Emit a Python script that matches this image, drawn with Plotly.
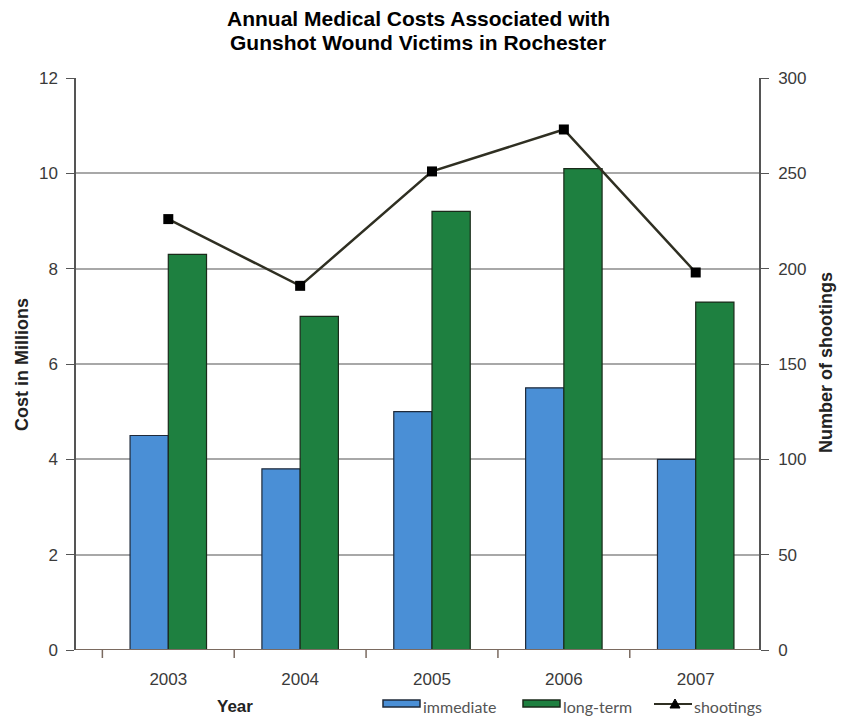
import plotly.graph_objects as go

years = ["2003", "2004", "2005", "2006", "2007"]
immediate = [4.5, 3.8, 5.0, 5.5, 4.0]
long_term = [8.3, 7.0, 9.2, 10.1, 7.3]
shootings = [226, 191, 251, 273, 198]

left_ticks = [0, 2, 4, 6, 8, 10, 12]
right_ticks = [0, 50, 100, 150, 200, 250, 300]

BLUE = "#4a8fd6"
GREEN = "#1e8040"
LINE = "#2f2f22"

x_idx = list(range(len(years)))

fig = go.Figure()
fig.add_trace(go.Bar(
    x=x_idx, y=immediate, name="immediate",
    marker=dict(color=BLUE, line=dict(color="#1f2a3a", width=1.2)),
))
fig.add_trace(go.Bar(
    x=x_idx, y=long_term, name="long-term",
    marker=dict(color=GREEN, line=dict(color="#1a2a1a", width=1.2)),
))
fig.add_trace(go.Scatter(
    x=x_idx, y=shootings, name="shootings", yaxis="y2",
    mode="lines+markers",
    line=dict(color=LINE, width=2.5),
    marker=dict(symbol="square", size=10, color="#000000"),
))

fig.update_layout(
    width=842, height=719,
    margin=dict(l=76, r=83, t=78, b=69, autoexpand=False),
    paper_bgcolor="white", plot_bgcolor="white",
    font=dict(family="Liberation Sans, Arial, sans-serif", color="#3a3a3a", size=17),
    showlegend=False,
    barmode="group", bargap=0.42, bargroupgap=0,
    xaxis=dict(
        range=[-0.7, 4.48],
        tickmode="array", tickvals=x_idx, ticktext=years,
        showgrid=False, showline=False, zeroline=False,
        ticks="", ticklabelstandoff=17,
        tickfont=dict(size=17, color="#3a3a3a"),
    ),
    yaxis=dict(
        range=[0, 12], tickvals=left_ticks,
        showgrid=True, gridcolor="#a8a8a8", gridwidth=1.5,
        showline=True, linecolor="#555555", linewidth=1.5,
        ticks="outside", ticklen=8, tickcolor="#555555",
        zeroline=False, ticklabelstandoff=5,
        tickfont=dict(size=17, color="#3a3a3a"),
    ),
    yaxis2=dict(
        range=[0, 300], tickvals=right_ticks, overlaying="y", side="right",
        showgrid=False, showline=True, linecolor="#555555", linewidth=1.5,
        ticks="outside", ticklen=8, tickcolor="#555555",
        zeroline=False, ticklabelstandoff=6,
        tickfont=dict(size=17, color="#3a3a3a"),
    ),
)

# baseline at zero and category separators
fig.add_shape(type="line", xref="paper", yref="y", x0=0, x1=1, y0=0, y1=0,
              line=dict(color="#7a6a60", width=2))
for b in [-0.5, 0.5, 1.5, 2.5, 3.5]:
    fig.add_shape(type="line", xref="x", yref="paper", x0=b, x1=b, y0=0, y1=-0.014,
                  line=dict(color="#7a6a60", width=1.5))

PH = 572.0
PW = 683.0
def fy(p):
    return (650 - p) / PH
def fx(p):
    return (p - 76) / PW

# title, one annotation per line
title_font = dict(size=21, color="#000000", family="Liberation Sans, Arial, sans-serif")
fig.add_annotation(text="<b>Annual Medical Costs Associated with</b>", xref="paper", yref="paper",
                   x=fx(418), y=fy(18), xanchor="center", yanchor="middle",
                   showarrow=False, font=title_font)
fig.add_annotation(text="<b>Gunshot Wound Victims in Rochester</b>", xref="paper", yref="paper",
                   x=fx(418), y=fy(42), xanchor="center", yanchor="middle",
                   showarrow=False, font=title_font)

# axis titles
fig.add_annotation(text="<b>Cost in Millions</b>", xref="paper", yref="paper",
                   x=fx(22), y=fy(365), xanchor="center", yanchor="middle",
                   textangle=-90, showarrow=False,
                   font=dict(size=18, color="#222222"))
fig.add_annotation(text="<b>Number of shootings</b>", xref="paper", yref="paper",
                   x=fx(826), y=fy(363), xanchor="center", yanchor="middle",
                   textangle=-90, showarrow=False,
                   font=dict(size=18, color="#222222"))
fig.add_annotation(text="<b>Year</b>", xref="paper", yref="paper",
                   x=fx(235), y=fy(706), xanchor="center", yanchor="middle",
                   showarrow=False, font=dict(size=17, color="#222222"))

# legend drawn as keys and labels along the bottom
ly = fy(704)
leg_font = dict(family="Lato, Noto Sans, sans-serif", size=16, color="#555555")
fig.add_shape(type="rect", xref="paper", yref="paper",
              x0=fx(383), x1=fx(420), y0=fy(707), y1=fy(700),
              fillcolor=BLUE, line=dict(color="#1f2a3a", width=1.5))
fig.add_annotation(text="immediate", xref="paper", yref="paper", x=fx(421), y=fy(706),
                   xanchor="left", yanchor="middle", showarrow=False, font=leg_font)
fig.add_shape(type="rect", xref="paper", yref="paper",
              x0=fx(523), x1=fx(560), y0=fy(707), y1=fy(700),
              fillcolor=GREEN, line=dict(color="#1a2a1a", width=1.5))
fig.add_annotation(text="long-term", xref="paper", yref="paper", x=fx(561), y=fy(706),
                   xanchor="left", yanchor="middle", showarrow=False, font=leg_font)
fig.add_shape(type="line", xref="paper", yref="paper",
              x0=fx(654), x1=fx(692), y0=ly, y1=ly,
              line=dict(color=LINE, width=2))
fig.add_shape(type="path", xref="paper", yref="paper",
              path=f"M {fx(670)} {fy(708)} L {fx(680)} {fy(708)} L {fx(675)} {fy(699)} Z",
              fillcolor="#000000", line=dict(color="#000000", width=1))
fig.add_annotation(text="shootings", xref="paper", yref="paper", x=fx(692), y=fy(706),
                   xanchor="left", yanchor="middle", showarrow=False, font=leg_font)

fig.write_html("out.html")
